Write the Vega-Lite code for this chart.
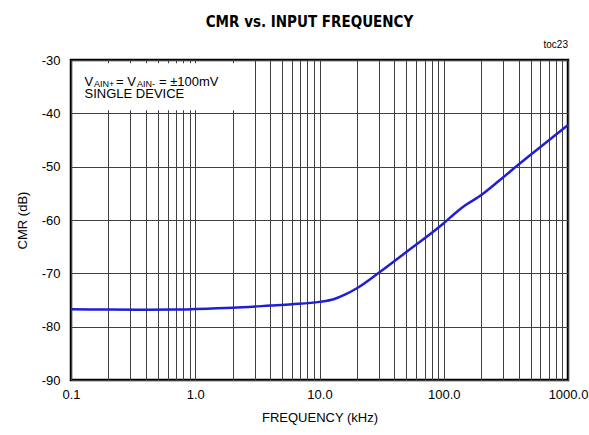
{
  "$schema": "https://vega.github.io/schema/vega-lite/v6.json",
  "width": 497,
  "height": 320,
  "autosize": "none",
  "padding": {"top": 60, "left": 71, "right": 21, "bottom": 55},
  "background": "white",
  "config": {
    "font": "Liberation Sans",
    "view": {"stroke": "black", "strokeWidth": 2.5}
  },
  "title": {
    "text": "CMR vs. INPUT FREQUENCY",
    "font": "DejaVu Sans Condensed",
    "fontSize": 15,
    "fontWeight": "bold",
    "color": "black",
    "anchor": "middle",
    "dx": -10,
    "offset": 10
  },
  "datasets": {
    "curve": [
      {"f": 0.1, "cmr": -76.75},
      {"f": 0.2, "cmr": -76.8},
      {"f": 0.4, "cmr": -76.85},
      {"f": 0.7, "cmr": -76.8},
      {"f": 1.0, "cmr": -76.7},
      {"f": 2.0, "cmr": -76.45},
      {"f": 4.0, "cmr": -76.05},
      {"f": 6.0, "cmr": -75.8},
      {"f": 10.0, "cmr": -75.35},
      {"f": 13.0, "cmr": -74.85},
      {"f": 16.0, "cmr": -74.0},
      {"f": 20.0, "cmr": -72.8},
      {"f": 30.0, "cmr": -69.9},
      {"f": 50.0, "cmr": -66.0},
      {"f": 100.0, "cmr": -60.6},
      {"f": 130.0, "cmr": -58.3},
      {"f": 150.0, "cmr": -57.2},
      {"f": 190.0, "cmr": -55.7},
      {"f": 280.0, "cmr": -52.6},
      {"f": 400.0, "cmr": -49.6},
      {"f": 600.0, "cmr": -46.3},
      {"f": 1000.0, "cmr": -42.2}
    ]
  },
  "layer": [
    {
      "data": {"values": [{"x0": 0.104, "x1": 2.3, "y0": -30.6, "y1": -39.4}]},
      "mark": {"type": "rect", "fill": "white", "stroke": null},
      "encoding": {
        "x": {
          "field": "x0", "type": "quantitative",
          "scale": {"type": "log", "domain": [0.1, 1000], "nice": false},
          "axis": {
            "values": [0.1,0.2,0.3,0.4,0.5,0.6,0.7,0.8,0.9,1,2,3,4,5,6,7,8,9,10,20,30,40,50,60,70,80,90,100,200,300,400,500,600,700,800,900,1000],
            "labelExpr": "indexof([0.1,1,10,100,1000], datum.value) >= 0 ? format(datum.value, '.1f') : ''",
            "title": "FREQUENCY (kHz)",
            "titleFont": "Liberation Sans",
            "titleFontSize": 13,
            "titleFontWeight": "normal",
            "titleColor": "black",
            "titlePadding": 10,
            "labelFont": "Liberation Sans",
            "labelFontSize": 13,
            "labelColor": "black",
            "labelPadding": 8,
            "labelFlush": false,
            "labelOverlap": false,
            "ticks": false,
            "domain": false,
            "grid": true,
            "gridColor": "#404040",
            "gridOpacity": 1,
            "gridWidth": 1,
            "zindex": 0
          }
        },
        "x2": {"field": "x1"},
        "y": {
          "field": "y0", "type": "quantitative",
          "scale": {"domain": [-90, -30], "nice": false},
          "axis": {
            "values": [-90,-80,-70,-60,-50,-40,-30],
            "labelExpr": "datum.value + ''",
            "title": "CMR (dB)",
            "titleFont": "Liberation Sans",
            "titleFontSize": 13,
            "titleFontWeight": "normal",
            "titleColor": "black",
            "titlePadding": 12,
            "labelFont": "Liberation Sans",
            "labelFontSize": 13,
            "labelColor": "black",
            "labelPadding": 11,
            "labelFlush": false,
            "ticks": false,
            "domain": false,
            "grid": true,
            "gridColor": "#404040",
            "gridOpacity": 1,
            "gridWidth": 1,
            "zindex": 0
          }
        },
        "y2": {"field": "y1"}
      }
    },
    {
      "data": {"name": "curve"},
      "mark": {"type": "line", "color": "#1f1fd6", "strokeWidth": 2.5, "interpolate": "monotone"},
      "encoding": {
        "x": {"field": "f", "type": "quantitative"},
        "y": {"field": "cmr", "type": "quantitative"}
      }
    },
    {
      "data": {"values": [
        {"t": "V", "f": 0.1285, "v": -34.82},
        {"t": "= V", "f": 0.2302, "v": -34.82},
        {"t": "= ±100mV", "f": 0.5106, "v": -34.82},
        {"t": "SINGLE DEVICE", "f": 0.1285, "v": -37.18}
      ]},
      "mark": {"type": "text", "align": "left", "baseline": "alphabetic", "fontSize": 13, "font": "Liberation Sans", "color": "black"},
      "encoding": {
        "x": {"field": "f", "type": "quantitative"},
        "y": {"field": "v", "type": "quantitative"},
        "text": {"field": "t"}
      }
    },
    {
      "data": {"values": [
        {"t": "AIN+", "f": 0.1531, "v": -35.1},
        {"t": "AIN-", "f": 0.3398, "v": -35.1}
      ]},
      "mark": {"type": "text", "align": "left", "baseline": "alphabetic", "fontSize": 9, "font": "Liberation Sans", "color": "black"},
      "encoding": {
        "x": {"field": "f", "type": "quantitative"},
        "y": {"field": "v", "type": "quantitative"},
        "text": {"field": "t"}
      }
    },
    {
      "data": {"values": [{"t": "toc23", "f": 1000, "v": -30}]},
      "mark": {"type": "text", "align": "right", "baseline": "alphabetic", "fontSize": 10, "font": "Liberation Sans", "color": "black", "dy": -12},
      "encoding": {
        "x": {"field": "f", "type": "quantitative"},
        "y": {"field": "v", "type": "quantitative"},
        "text": {"field": "t"}
      }
    }
  ]
}
